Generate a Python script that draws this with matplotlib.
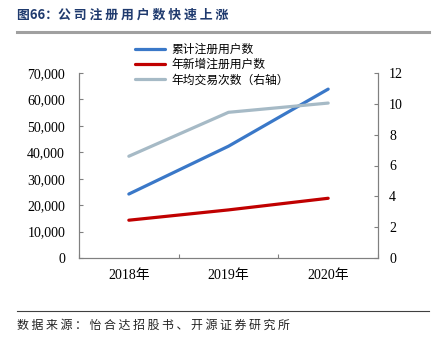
import matplotlib.pyplot as plt
from matplotlib.lines import Line2D

plt.rcParams['font.family'] = ['Liberation Serif', 'Noto Sans CJK SC']

# data
years = ['2018年', '2019年', '2020年']
total_users = [24200, 42300, 63900]
new_users = [14300, 18200, 22600]
avg_trades = [6.6, 9.45, 10.05]

label_total = '累计注册用户数'
label_new = '年新增注册用户数'
label_trades = '年均交易次数（右轴）'
title = '图66：' + ' '.join('公司注册用户数快速上涨')
source = ' '.join('数据来源：怡合达招股书、开源证券研究所')

c_blue = '#3A78C8'
c_red = '#C00000'
c_gray = '#A6BAC6'
c_axis = '#808080'

fig = plt.figure(figsize=(4.34, 3.37), dpi=100)

# title and rules
fig.text(17/434, 1 - 15/337, title, family=['Noto Sans CJK SC'],
         fontsize=9.3, fontweight='bold', color='#1F3A6E', va='center', ha='left')
fig.add_artist(Line2D([17/434, 429/434], [1 - 32/337, 1 - 32/337], color='#A0A0A0', lw=2.2))
fig.add_artist(Line2D([17/434, 429/434], [1 - 311/337, 1 - 311/337], color='#404040', lw=0.8))
fig.text(17/434, 1 - 325/337, source, family=['Noto Sans CJK SC'],
         fontsize=8.6, color='#222222', va='center', ha='left')

ax = fig.add_axes([79/434, 1 - 258/337, 299/434, 185/337])
ax2 = ax.twinx()

x = range(len(years))
l1, = ax.plot(x, total_users, color=c_blue, lw=2.3, solid_capstyle='round')
l2, = ax.plot(x, new_users, color=c_red, lw=2.3, solid_capstyle='round')
l3, = ax2.plot(x, avg_trades, color=c_gray, lw=2.3, solid_capstyle='round')

ax.set_xlim(-0.5, 2.5)
ax.set_ylim(0, 70000)
ax.set_yticks(range(0, 70001, 10000))
ax.set_yticklabels([f'{v:,}' for v in range(0, 70001, 10000)])
ax2.set_ylim(0, 12)
ax2.set_yticks(range(0, 13, 2))

ax.set_xticks([-0.5, 0.5, 1.5, 2.5])
ax.set_xticklabels([])
ax.set_xticks(list(x), minor=True)
ax.set_xticklabels(years, minor=True)
ax.tick_params(axis='x', which='minor', length=0, pad=8)
ax.tick_params(axis='x', which='major', direction='in', length=3, color=c_axis)

for a in (ax, ax2):
    a.tick_params(axis='y', direction='in', length=3, color=c_axis, labelsize=10)
    a.tick_params(axis='x', labelsize=10)
    a.spines['top'].set_visible(False)
    for s in ('left', 'right', 'bottom'):
        a.spines[s].set_color(c_axis)
ax.tick_params(axis='y', pad=10)
ax2.tick_params(axis='y', pad=8)

leg = fig.legend([l1, l2, l3], [label_total, label_new, label_trades],
                 loc='upper left', bbox_to_anchor=(130/434, 1 - 38/337),
                 frameon=False, handlelength=2.6, labelspacing=0.2,
                 handletextpad=0.5, borderaxespad=0, prop={'family': ['Noto Sans CJK SC'], 'size': 8.5})

fig.savefig('out.png', dpi=100)
